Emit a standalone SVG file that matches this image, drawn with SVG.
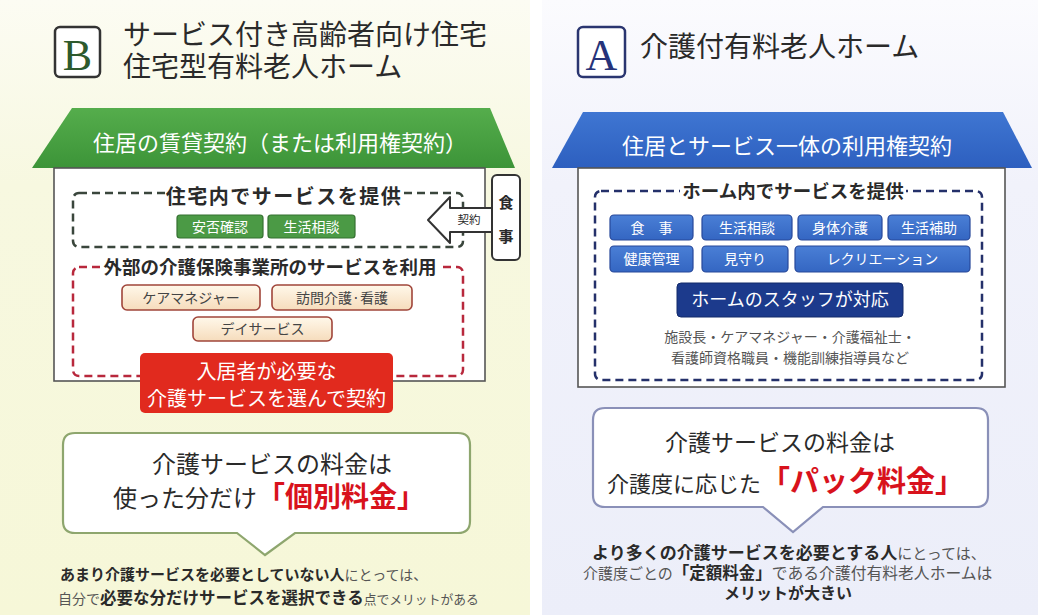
<svg xmlns="http://www.w3.org/2000/svg" width="1038" height="615" viewBox="0 0 1038 615">
<defs>
<linearGradient id="bgL" x1="0" y1="0" x2="0" y2="1"><stop offset="0" stop-color="#fcfcf3"/><stop offset="0.3" stop-color="#f7f8e0"/><stop offset="1" stop-color="#f6f7d8"/></linearGradient>
<linearGradient id="bgR" x1="0" y1="0" x2="0" y2="1"><stop offset="0" stop-color="#fbfbfe"/><stop offset="0.3" stop-color="#f1f2fb"/><stop offset="1" stop-color="#eceef9"/></linearGradient>
<linearGradient id="roofG" x1="0" y1="0" x2="0" y2="1"><stop offset="0" stop-color="#55ad4c"/><stop offset="1" stop-color="#3c9438"/></linearGradient>
<linearGradient id="roofB" x1="0" y1="0" x2="0" y2="1"><stop offset="0" stop-color="#3f76d2"/><stop offset="1" stop-color="#2d5fbf"/></linearGradient>
<linearGradient id="cream" x1="0" y1="0" x2="0" y2="1"><stop offset="0" stop-color="#fff8ea"/><stop offset="1" stop-color="#f6dcbc"/></linearGradient>
<linearGradient id="bluePill" x1="0" y1="0" x2="0" y2="1"><stop offset="0" stop-color="#4a7fd6"/><stop offset="1" stop-color="#3466c2"/></linearGradient>
</defs>
<style>
text{font-family:"Noto Sans CJK JP","Noto Sans",sans-serif;}
.t{fill:#2a2a2a;}
.w{fill:#ffffff;}
.g{fill:#555555;}
.b{font-weight:bold;}
.red{fill:#d8121c;font-weight:bold;}
.body{fill:#ffffff;stroke:#555;stroke-width:1.6;}
.dashG{fill:none;stroke:#3a463c;stroke-width:2.5;stroke-dasharray:8 5;}
.dashR{fill:none;stroke:#b8283c;stroke-width:2.5;stroke-dasharray:8 5;}
.dashB{fill:none;stroke:#24306a;stroke-width:2.5;stroke-dasharray:8 5;}
.pillG{fill:#4b9a45;stroke:#357131;stroke-width:1.2;}
.pillC{fill:url(#cream);stroke:#a0453a;stroke-width:1.6;}
.pillB{fill:url(#bluePill);stroke:#27489a;stroke-width:1.2;}
.callL{fill:#ffffff;stroke:#8ea66e;stroke-width:2.2;}
.callR{fill:#ffffff;stroke:#8a90b8;stroke-width:2.2;}
</style>
<rect x="0" y="0" width="1038" height="615" fill="#ffffff"/>
<rect x="0" y="0" width="530" height="615" fill="url(#bgL)"/>
<rect x="542" y="0" width="496" height="615" fill="url(#bgR)"/>

<g id="titleB">
<rect x="55" y="27" width="45" height="50" rx="5" fill="#ffffff" stroke="#333" stroke-width="2.5"/>
<text x="77.5" y="70" text-anchor="middle" font-size="44" style="font-family:'Liberation Serif',serif" fill="#2d5a2d">B</text>
<text x="123" y="45" font-size="28" class="t">サービス付き高齢者向け住宅</text>
<text x="123" y="77" font-size="28" class="t">住宅型有料老人ホーム</text>
</g>

<g id="houseB">
<polygon points="72,108 490,108 515,168 32,168" fill="url(#roofG)"/>
<text x="280" y="151" text-anchor="middle" font-size="22" class="w">住居の賃貸契約（または利用権契約）</text>
<rect x="54" y="168" width="431" height="213" class="body"/>
</g>

<g id="inhouseB">
<rect x="73" y="193" width="390" height="54" rx="6" class="dashG"/>
<rect x="165" y="186" width="238" height="16" fill="#ffffff"/>
<text x="284" y="204" text-anchor="middle" font-size="20" letter-spacing="1.5" class="t b">住宅内でサービスを提供</text>
<rect x="177" y="215" width="86" height="23" rx="3" class="pillG"/>
<text x="220" y="232" text-anchor="middle" font-size="14" class="w">安否確認</text>
<rect x="268" y="215" width="87" height="23" rx="3" class="pillG"/>
<text x="311.5" y="232" text-anchor="middle" font-size="14" class="w">生活相談</text>
</g>

<g id="externalB">
<rect x="73" y="267" width="390" height="109" rx="6" class="dashR"/>
<rect x="100" y="259" width="340" height="16" fill="#ffffff"/>
<text x="270" y="274" text-anchor="middle" font-size="18.5" class="t b">外部の介護保険事業所のサービスを利用</text>
<rect x="122" y="285" width="138" height="25" rx="5" class="pillC"/>
<text x="191" y="303" text-anchor="middle" font-size="14" fill="#444">ケアマネジャー</text>
<rect x="272" y="285" width="140" height="25" rx="5" class="pillC"/>
<text x="342" y="303" text-anchor="middle" font-size="14" fill="#444">訪問介護·看護</text>
<rect x="193" y="317" width="139" height="24" rx="5" class="pillC"/>
<text x="262.5" y="334" text-anchor="middle" font-size="14" fill="#444">デイサービス</text>
</g>

<g id="contractB">
<rect x="140" y="353" width="253" height="60" rx="5" fill="#e12a1e"/>
<text x="266.5" y="379" text-anchor="middle" font-size="20" class="w">入居者が必要な</text>
<text x="266.5" y="406" text-anchor="middle" font-size="20" class="w">介護サービスを選んで契約</text>
</g>

<g id="mealB">
<rect x="492" y="175" width="28" height="85" rx="5" fill="#ffffff" stroke="#333" stroke-width="2"/>
<text x="506" y="208" text-anchor="middle" font-size="15" class="t b">食</text>
<text x="506" y="242" text-anchor="middle" font-size="15" class="t b">事</text>
</g>

<g id="connectors">
<polygon points="428,220 450,197 450,208 492,208 492,232 450,232 450,243" fill="#ffffff" stroke="#333" stroke-width="2" stroke-linejoin="round"/>
<text x="469" y="224" text-anchor="middle" font-size="11.5" class="t">契約</text>
</g>

<g id="calloutB">
<path d="M75,433 H458 Q470,433 470,445 V521 Q470,533 458,533 H295 L265,555 L237,533 H75 Q63,533 63,521 V445 Q63,433 75,433 Z" class="callL"/>
<text x="272" y="473" text-anchor="middle" font-size="24" class="t">介護サービスの料金は</text>
<text x="113" y="507" font-size="24" class="t">使った分だけ<tspan class="red" font-size="28">「個別料金」</tspan></text>
</g>

<g id="noteB">
<text x="60" y="580" font-size="15" class="t b">あまり介護サービスを必要としていない人<tspan class="g" font-weight="normal" font-size="14">にとっては、</tspan></text>
<text x="58" y="604" font-size="14" class="g">自分で<tspan class="t b" font-size="16.5">必要な分だけサービスを選択できる</tspan><tspan font-size="12.8">点でメリットがある</tspan></text>
</g>

<g id="titleA">
<rect x="578" y="27" width="47" height="50" rx="5" fill="#ffffff" stroke="#2a3570" stroke-width="2.5"/>
<text x="601.5" y="70" text-anchor="middle" font-size="44" style="font-family:'Liberation Serif',serif" fill="#26337a">A</text>
<text x="640" y="57" font-size="28" class="t">介護付有料老人ホーム</text>
</g>

<g id="houseA">
<polygon points="583,112 1003,112 1032,168 552,168" fill="url(#roofB)"/>
<text x="787" y="154" text-anchor="middle" font-size="22" class="w">住居とサービス一体の利用権契約</text>
<rect x="578" y="168" width="427" height="219" class="body"/>
</g>

<g id="inhomeA">
<rect x="595" y="191" width="387" height="189" rx="6" class="dashB"/>
<rect x="680" y="182" width="226" height="18" fill="#ffffff"/>
<text x="793" y="198" text-anchor="middle" font-size="18.5" class="t b">ホーム内でサービスを提供</text>
<rect x="610" y="215" width="83" height="25" rx="4" class="pillB"/>
<text x="651.5" y="233" text-anchor="middle" font-size="14" class="w">食　事</text>
<rect x="702" y="215" width="90" height="25" rx="4" class="pillB"/>
<text x="747" y="233" text-anchor="middle" font-size="14" class="w">生活相談</text>
<rect x="798" y="215" width="84" height="25" rx="4" class="pillB"/>
<text x="840" y="233" text-anchor="middle" font-size="14" class="w">身体介護</text>
<rect x="888" y="215" width="82" height="25" rx="4" class="pillB"/>
<text x="929" y="233" text-anchor="middle" font-size="14" class="w">生活補助</text>
<rect x="610" y="246" width="83" height="26" rx="4" class="pillB"/>
<text x="651.5" y="264" text-anchor="middle" font-size="14" class="w">健康管理</text>
<rect x="702" y="246" width="86" height="26" rx="4" class="pillB"/>
<text x="745" y="264" text-anchor="middle" font-size="14" class="w">見守り</text>
<rect x="795" y="246" width="175" height="26" rx="4" class="pillB"/>
<text x="882.5" y="264" text-anchor="middle" font-size="14" class="w">レクリエーション</text>
</g>

<g id="staffA">
<rect x="677" y="283" width="226" height="34" rx="4" fill="#1c3a8c" stroke="#132a6a" stroke-width="1"/>
<text x="790" y="306" text-anchor="middle" font-size="18" class="w">ホームのスタッフが対応</text>
<text x="790" y="342" text-anchor="middle" font-size="14" class="g">施設長・ケアマネジャー・介護福祉士・</text>
<text x="790" y="363" text-anchor="middle" font-size="14" class="g">看護師資格職員・機能訓練指導員など</text>
</g>

<g id="calloutA">
<path d="M605,408 H976 Q988,408 988,420 V495 Q988,507 976,507 H823 L793,532 L763,507 H605 Q593,507 593,495 V420 Q593,408 605,408 Z" class="callR"/>
<text x="780" y="451" text-anchor="middle" font-size="23" class="t">介護サービスの料金は</text>
<text x="607" y="492" font-size="22" class="t">介護度に応じた<tspan class="red" font-size="29">「パック料金」</tspan></text>
</g>

<g id="noteA">
<text x="592" y="559" font-size="17" class="t b">より多くの介護サービスを必要とする人<tspan class="g" font-weight="normal" font-size="15">にとっては、</tspan></text>
<text x="583" y="579" font-size="15" class="g">介護度ごとの<tspan class="t b" font-size="16.5">「定額料金」</tspan><tspan font-size="15.8">である介護付有料老人ホームは</tspan></text>
<text x="788" y="599" text-anchor="middle" font-size="16" class="t b">メリットが大きい</text>
</g>
</svg>
